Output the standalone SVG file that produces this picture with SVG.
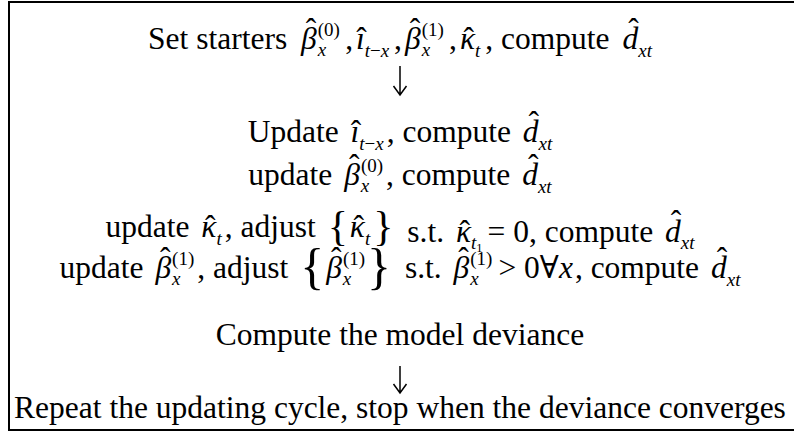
<svg xmlns="http://www.w3.org/2000/svg" width="794" height="432" viewBox="0 0 794 432">
<style>
.t{font-family:"Liberation Serif","Times New Roman","DejaVu Serif",serif;font-size:31.5px;fill:#000;text-anchor:middle}
.i{font-style:italic}
.s{font-size:19px}
.ss{font-size:12.5px}
.br{font-size:42px}
.br2{font-size:50px}
.frame{fill:none;stroke:#000;stroke-width:2}
.arr{fill:none;stroke:#000;stroke-width:1.5}
</style>
<rect width="794" height="432" fill="#fff"/>
<path class="frame" d="M794,2 H9 V430 H794"/>
<g id="connectors">
<path class="arr" d="M400,66 V95 M393.5,86 L400,95 L406.5,86"/>
<path class="arr" d="M400,366 V393 M393.5,384 L400,393 L406.5,384"/>
</g>
<g id="n1"><text class="t" x="400" y="49">Set starters <tspan class="i" dx="6">β</tspan><tspan dx="-11" dy="-9.5">ˆ</tspan><tspan class="s" dx="1.5" dy="-4">(0)</tspan><tspan class="s i" dx="-22.2" dy="20.5">x</tspan><tspan dx="19" dy="-7">,</tspan><tspan class="i" dx="3">ı</tspan><tspan dx="-8.6">ˆ</tspan><tspan class="s" dx="-2" dy="7.5"><tspan class="i">t</tspan>−<tspan class="i">x</tspan></tspan><tspan dx="5" dy="-7.5">,</tspan><tspan class="i" dx="3">β</tspan><tspan dx="-11" dy="-9.5">ˆ</tspan><tspan class="s" dx="1.5" dy="-4">(1)</tspan><tspan class="s i" dx="-22.2" dy="20.5">x</tspan><tspan dx="19" dy="-7">,</tspan><tspan class="i" dx="3">κ</tspan><tspan dx="-11.5">ˆ</tspan><tspan class="s i" dx="1" dy="7.5">t</tspan><tspan dx="5" dy="-7.5">, compute </tspan><tspan class="i" dx="5">d</tspan><tspan dx="-10" dy="-9.5">ˆ</tspan><tspan class="s i" dx="-0.5" dy="17">xt</tspan></text></g>
<g id="n2"><text class="t" x="400" y="142">Update <tspan class="i" dx="4">ı</tspan><tspan dx="-8.6">ˆ</tspan><tspan class="s" dx="-2" dy="7.5"><tspan class="i">t</tspan>−<tspan class="i">x</tspan></tspan><tspan dx="3" dy="-7.5">, compute </tspan><tspan class="i" dx="4">d</tspan><tspan dx="-10" dy="-9.5">ˆ</tspan><tspan class="s i" dx="-0.5" dy="17">xt</tspan></text></g>
<g id="n3"><text class="t" x="400" y="185">update <tspan class="i" dx="4">β</tspan><tspan dx="-11" dy="-9.5">ˆ</tspan><tspan class="s" dx="1.5" dy="-4">(0)</tspan><tspan class="s i" dx="-22.2" dy="20.5">x</tspan><tspan dx="16.8" dy="-7">, compute </tspan><tspan class="i" dx="4">d</tspan><tspan dx="-10" dy="-9.5">ˆ</tspan><tspan class="s i" dx="-0.5" dy="17">xt</tspan></text></g>
<g id="n4"><text class="t" x="400" y="237">update <tspan class="i" dx="4">κ</tspan><tspan dx="-11.5">ˆ</tspan><tspan class="s i" dx="1" dy="7.5">t</tspan><tspan dx="3" dy="-7.5">, adjust </tspan><tspan class="br" dx="4" dy="3">{</tspan><tspan class="i" dx="2" dy="-3">κ</tspan><tspan dx="-11.5">ˆ</tspan><tspan class="s i" dx="1" dy="7.5">t</tspan><tspan class="br" dx="3" dy="-4.5">}</tspan><tspan dx="6" dy="1.5"> s.t. </tspan><tspan class="i" dx="4">κ</tspan><tspan dx="-11.5">ˆ</tspan><tspan class="s i" dx="1" dy="7.5">t</tspan><tspan class="ss" dy="3">1</tspan><tspan dx="5" dy="-10.5">= 0, compute </tspan><tspan class="i" dx="4">d</tspan><tspan dx="-10" dy="-9.5">ˆ</tspan><tspan class="s i" dx="-0.5" dy="17">xt</tspan></text></g>
<g id="n5"><text class="t" x="400" y="278">update <tspan class="i" dx="4">β</tspan><tspan dx="-11" dy="-9.5">ˆ</tspan><tspan class="s" dx="1.5" dy="-4">(1)</tspan><tspan class="s i" dx="-22.2" dy="20.5">x</tspan><tspan dx="16.8" dy="-7">, adjust </tspan><tspan class="br2" dx="4" dy="5">{</tspan><tspan class="i" dx="2" dy="-5">β</tspan><tspan dx="-11" dy="-9.5">ˆ</tspan><tspan class="s" dx="1.5" dy="-4">(1)</tspan><tspan class="s i" dx="-22.2" dy="20.5">x</tspan><tspan class="br2" dx="15.8" dy="-2">}</tspan><tspan dx="6" dy="-5"> s.t. </tspan><tspan class="i" dx="4">β</tspan><tspan dx="-11" dy="-9.5">ˆ</tspan><tspan class="s" dx="1.5" dy="-4">(1)</tspan><tspan class="s i" dx="-22.2" dy="20.5">x</tspan><tspan dx="19.8" dy="-7">&gt; 0∀</tspan><tspan class="i">x</tspan><tspan dx="2">, compute </tspan><tspan class="i" dx="4">d</tspan><tspan dx="-10" dy="-9.5">ˆ</tspan><tspan class="s i" dx="-0.5" dy="17">xt</tspan></text></g>
<g id="n6"><text class="t" x="400" y="345">Compute the model deviance</text></g>
<g id="n7"><text class="t" x="400" y="418">Repeat the updating cycle, stop when the deviance converges</text></g>
</svg>
